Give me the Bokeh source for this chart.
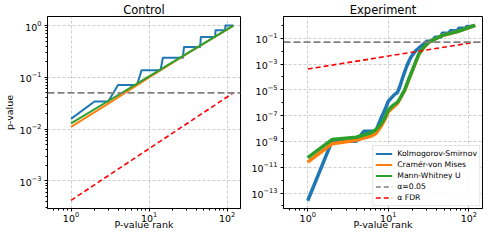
from bokeh.plotting import figure
from bokeh.layouts import row
from bokeh.models import FixedTicker, Legend, LegendItem, Range1d, Span
from bokeh.embed import file_html
from bokeh.resources import INLINE

# ---------------- data ----------------
ALPHA = 0.05
FDR_RANK = [1, 120]
FDR_P = [0.000417, 0.05]

# Control panel
CTRL_KS_RANK = [1, 2, 3, 4, 7, 8, 14, 15, 27, 28, 45, 46, 70, 71, 94, 95, 120]
CTRL_KS_P = [0.0157, 0.034, 0.034, 0.071, 0.071, 0.137, 0.137, 0.238, 0.238,
             0.387, 0.387, 0.60, 0.60, 0.81, 0.81, 1.0, 1.0]
CTRL_CVM_RANK = [1, 3, 10, 30, 120]
CTRL_CVM_P = [0.011, 0.031, 0.100, 0.280, 1.0]
CTRL_MW_RANK = [1, 3, 10, 30, 120]
CTRL_MW_P = [0.0128, 0.0348, 0.104, 0.283, 1.0]

# Experiment panel
EXP_KS_RANK = [1, 2, 4, 5, 7, 8, 9, 10, 11, 12, 13, 14, 15, 16, 17, 18, 19, 20,
               22, 24, 27, 30, 35, 38, 45, 47, 57, 59, 72, 75, 91, 95, 105, 120]
EXP_KS_P = [2.5e-14, 1.05e-9, 1.05e-9, 6.3e-9, 6.3e-9, 5.0e-8, 2.5e-7, 1.26e-6,
            2.5e-6, 4.5e-6, 6.3e-6, 2.0e-5, 7.9e-5, 2.5e-4, 7.1e-4, 1.6e-3,
            3.2e-3, 5.0e-3, 1.12e-2, 1.78e-2, 3.2e-2, 6.0e-2, 6.3e-2, 0.12,
            0.126, 0.25, 0.25, 0.38, 0.38, 0.60, 0.60, 0.83, 0.83, 1.0]
EXP_CVM_RANK = [1, 2, 4, 6, 7, 8, 9, 10, 11, 13, 14, 16, 18, 20, 22, 24, 27, 32,
                47, 75, 120]
EXP_CVM_P = [2.5e-11, 6.6e-10, 1.26e-9, 2.5e-9, 4.0e-9, 1.26e-8, 4.5e-8, 2.0e-7,
             3.5e-7, 8.9e-7, 2.0e-6, 8.9e-6, 6.3e-5, 3.2e-4, 1.4e-3, 5.6e-3,
             1.6e-2, 5.0e-2, 0.166, 0.355, 1.0]
EXP_MW_RANK = [1, 2, 4, 6, 7, 8, 9, 10, 11, 13, 14, 16, 18, 20, 22, 24, 27, 32,
               47, 75, 120]
EXP_MW_P = [5.5e-11, 1.4e-9, 2.1e-9, 4.5e-9, 7.9e-9, 2.0e-8, 6.3e-8, 2.8e-7,
            5.0e-7, 1.1e-6, 2.2e-6, 1.0e-5, 7.0e-5, 3.5e-4, 1.6e-3, 6.3e-3,
            1.8e-2, 5.2e-2, 0.17, 0.36, 1.0]

X_LIMITS = (0.5, 148)
CTRL_Y_LIMITS = (2.9e-4, 1.5)
EXP_Y_LIMITS = (6.3e-15, 4.9)

X_TICKS = [1, 10, 100]
X_MINOR = [0.6, 0.7, 0.8, 0.9, 2, 3, 4, 5, 6, 7, 8, 9,
           20, 30, 40, 50, 60, 70, 80, 90]
CTRL_Y_TICKS = [1e-3, 1e-2, 1e-1, 1e0]
CTRL_Y_MINOR = [m * 10.0 ** e for e in (-4, -3, -2, -1, 0) for m in range(2, 10)]
EXP_Y_TICKS = [1e-13, 1e-11, 1e-9, 1e-7, 1e-5, 1e-3, 1e-1]
EXP_Y_MINOR = [1e-14, 1e-12, 1e-10, 1e-8, 1e-6, 1e-4, 1e-2, 1e0]

SERIES_NAMES = ["Kolmogorov-Smirnov", "Cramér-von Mises", "Mann-Whitney U"]
COLORS = ["#1f77b4", "#ff7f0e", "#2ca02c"]

FONT = "DejaVu Sans"


def make_fig(title, y_limits, y_ticks, y_minor, ylabel, width, b_left, b_right):
    p = figure(width=width, height=232, x_axis_type="log", y_axis_type="log",
               x_range=Range1d(*X_LIMITS), y_range=Range1d(*y_limits),
               output_backend="svg", toolbar_location=None, title=title,
               min_border_left=b_left, min_border_right=b_right,
               min_border_top=12, min_border_bottom=20)
    p.title.text_font = FONT
    p.title.text_font_size = "11.5px"
    p.title.text_font_style = "normal"
    p.title.text_color = "black"
    p.title.align = "center"
    p.title.standoff = 0
    p.title.offset = 0
    p.outline_line_color = "black"
    p.outline_line_alpha = 1
    p.outline_line_width = 1
    p.background_fill_color = "white"
    p.border_fill_color = "white"

    p.xaxis.ticker = FixedTicker(ticks=X_TICKS, minor_ticks=X_MINOR)
    p.yaxis.ticker = FixedTicker(ticks=y_ticks, minor_ticks=y_minor)
    p.xaxis.axis_label = "P-value rank"
    if ylabel:
        p.yaxis.axis_label = ylabel
    for ax in (p.xaxis[0], p.yaxis[0]):
        ax.axis_label_text_font = FONT
        ax.axis_label_text_font_size = "9.5px"
        ax.axis_label_text_font_style = "normal"
        ax.axis_label_text_color = "black"
        ax.major_label_text_font = FONT
        ax.major_label_text_font_size = "9.5px"
        ax.major_label_text_color = "black"
        ax.axis_line_color = "black"
        ax.major_tick_line_color = "black"
        ax.minor_tick_line_color = "black"
        ax.major_tick_out = 3
        ax.major_tick_in = 0
        ax.minor_tick_out = 2
        ax.minor_tick_in = 0
    p.xaxis.major_label_standoff = 0
    p.xaxis.axis_label_standoff = -6
    p.yaxis.major_label_standoff = 3
    p.yaxis.axis_label_standoff = 2
    for g in (p.xgrid[0], p.ygrid[0]):
        g.grid_line_color = "#b0b0b0"
        g.grid_line_dash = "3 2"
        g.grid_line_alpha = 0.8
        g.grid_line_width = 0.8
    return p


def add_series(p, data, lw):
    rs = []
    for (xs, ys), c in zip(data, COLORS):
        r = p.line(xs, ys, line_color=c, line_width=lw, line_join="round")
        rs.append(r)
    span = Span(location=ALPHA, dimension="width", line_color="#808080",
                line_dash="7 3", line_width=1.8)
    p.add_layout(span)
    red = p.line(FDR_RANK, FDR_P, line_color="red", line_dash="5 3",
                 line_width=1.6)
    return rs, red


p1 = make_fig("Control", CTRL_Y_LIMITS, CTRL_Y_TICKS, CTRL_Y_MINOR, "p-value",
              242, 39, 2)
add_series(p1, [(CTRL_KS_RANK, CTRL_KS_P), (CTRL_CVM_RANK, CTRL_CVM_P),
                (CTRL_MW_RANK, CTRL_MW_P)], 2)

p2 = make_fig("Experiment", EXP_Y_LIMITS, EXP_Y_TICKS, EXP_Y_MINOR, None,
              242, 41, 2)
add_series(p2, [(EXP_KS_RANK, EXP_KS_P), (EXP_CVM_RANK, EXP_CVM_P),
                (EXP_MW_RANK, EXP_MW_P)], 3.5)

# legend-only renderers (no data inside the view)
nan = float("nan")
items = []
for name, c in zip(SERIES_NAMES, COLORS):
    r = p2.line([nan], [nan], line_color=c, line_width=2.2)
    items.append(LegendItem(label=name, renderers=[r]))
r_a = p2.line([nan], [nan], line_color="#808080", line_dash="5 3", line_width=1.5)
items.append(LegendItem(label="α=0.05", renderers=[r_a]))
r_f = p2.line([nan], [nan], line_color="red", line_dash="5 3", line_width=1.5)
items.append(LegendItem(label="α FDR", renderers=[r_f]))

legend = Legend(items=items, location="bottom_right")
legend.label_text_font = FONT
legend.label_text_font_size = "7.7px"
legend.label_text_color = "black"
legend.label_standoff = 5
legend.glyph_width = 17
legend.glyph_height = 11
legend.label_height = 11
legend.spacing = 0
legend.padding = 2
legend.margin = 2
legend.border_line_color = "#cccccc"
legend.border_line_width = 1
legend.background_fill_alpha = 0.85
p2.add_layout(legend)

layout = row(p1, p2)
open("out.html", "w").write(file_html(layout, INLINE))
